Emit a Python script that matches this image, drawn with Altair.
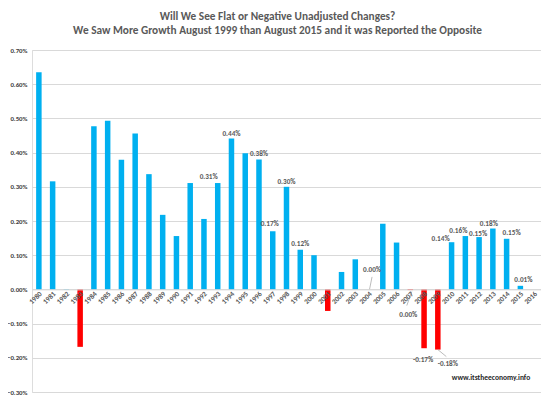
import altair as alt
import pandas as pd

FONT = "Carlito, Lato, sans-serif"

years = list(range(1980, 2017))
values = [0.635, 0.316, -0.001, -0.168, 0.477, 0.493, 0.379, 0.456, 0.337, 0.218,
          0.156, 0.311, 0.206, 0.311, 0.441, 0.398, 0.380, 0.170, 0.300, 0.116,
          0.100, -0.063, 0.051, 0.088, 0.000, 0.192, 0.137, -0.002, -0.172, -0.176,
          0.138, 0.156, 0.153, 0.178, 0.148, 0.0105, None]

label_years = [1993, 1994, 1996, 1997, 1998, 1999, 2004, 2007, 2008, 2009,
               2010, 2011, 2012, 2013, 2014, 2015]
label_texts = ["0.31%", "0.44%", "0.38%", "0.17%", "0.30%", "0.12%", "0.00%", "0.00%",
               "-0.17%", "-0.18%", "0.14%", "0.16%", "0.15%", "0.18%", "0.15%", "0.01%"]
# label placement (pixel nudges, like Excel's manually placed labels)
label_dx = [-9, 0, 0, -3, 0, 0, 3, -2, -1, 10, -11, -7, -1, -4, 5, 3]
label_dy = [-6, -5, -5, -7, -5, -6, -19, 25, 12, 14, -3, -5, -3, -5, -6, -6]

leader_years = [2004, 2007, 2009]
# (xOffset, yOffset, x2Offset, y2Offset) in pixels
leader_offsets = [(0.5, 0, 3, -12.5), (1.5, 1.5, -3.5, 15.5), (0, 0, 8.5, 7)]

y_ticks = [-0.3, -0.2, -0.1, 0.0, 0.1, 0.2, 0.3, 0.4, 0.5, 0.6, 0.7]

title_lines = ["Will We See Flat or Negative Unadjusted Changes?",
               "We Saw More Growth August 1999 than August 2015 and it was Reported the Opposite"]
watermark = "www.itstheeconomy.info"

BLUE = "#00B0F0"
RED = "#FF0000"
GRID = "#D9D9D9"
TEXT = "#595959"

df = pd.DataFrame({"year": years, "value": values})
df["sign"] = ["neg" if (v is not None and v == v and v < -0.0015) else "pos" for v in values]
val_by_year = dict(zip(years, values))

xscale = alt.Scale(domain=years, paddingInner=0.6, paddingOuter=0.3)
yscale = alt.Scale(domain=[-0.3, 0.7], nice=False, zero=False)

xaxis = alt.Axis(orient="bottom", offset=-102.6, labelAngle=-45,
                 labelAlign="right", labelBaseline="middle",
                 ticks=False, domain=True, domainColor=GRID, domainWidth=1,
                 labelPadding=3, labelOffset=2, labelOverlap=False,
                 labelFont=FONT, labelFontSize=7.2, labelFontWeight="bold",
                 labelColor=TEXT, grid=False, zindex=1)
yaxis = alt.Axis(values=y_ticks, labelExpr="format(datum.value, '.2f') + '%'",
                 domain=False, ticks=False, grid=True, gridColor=GRID,
                 gridWidth=1, labelPadding=5, labelFont=FONT,
                 labelFontSize=6.8, labelFontWeight="bold", labelColor="#404040")


def xenc():
    return alt.X("year:O", scale=xscale, sort=None, title=None, axis=xaxis)


def yenc(field="value:Q"):
    return alt.Y(field, scale=yscale, title=None, axis=yaxis)


bars = alt.Chart(df).mark_bar(width=5.5).encode(
    x=xenc(),
    y=yenc(),
    color=alt.Color("sign:N", scale=alt.Scale(domain=["pos", "neg"], range=[BLUE, RED]),
                    legend=None),
)

layers = [bars]

for yr, txt, dx, dy in zip(label_years, label_texts, label_dx, label_dy):
    ldf = pd.DataFrame({"year": [yr], "value": [val_by_year[yr]], "label": [txt]})
    layers.append(
        alt.Chart(ldf).mark_text(dx=dx, dy=dy, font=FONT, fontSize=7.2,
                                 fontWeight="bold", color=TEXT, baseline="middle",
                                 align="center").encode(
            x=xenc(), y=yenc(), text="label:N",
        )
    )

for yr, (xo, yo, x2o, y2o) in zip(leader_years, leader_offsets):
    rdf = pd.DataFrame({"year": [yr], "value": [val_by_year[yr]]})
    layers.append(
        alt.Chart(rdf).mark_rule(color="#A6A6A6", strokeWidth=0.75, xOffset=xo,
                                 yOffset=yo, x2Offset=x2o, y2Offset=y2o).encode(
            x=xenc(), x2="year:O", y=yenc(), y2="value:Q",
        )
    )

wm = alt.Chart(pd.DataFrame({"t": [watermark]})).mark_text(
    font=FONT, fontSize=7.5, fontWeight="bold", color="#262626", align="center",
    baseline="middle").encode(text="t:N", x=alt.value(459), y=alt.value(328))
layers.append(wm)

chart = alt.layer(*layers).properties(
    width=509, height=342,
    padding={"left": 24, "top": 42, "right": 0, "bottom": 5},
    autosize=alt.AutoSizeParams(type="none"),
    title=alt.TitleParams(text=title_lines, font=FONT, fontSize=11.3, fontWeight="bold",
                          color=TEXT, anchor="middle", dx=-9, offset=11, lineHeight=14),
).configure_view(stroke=None).configure(background="white")

chart.save("out.html", embed_options={"renderer": "svg", "actions": False})
